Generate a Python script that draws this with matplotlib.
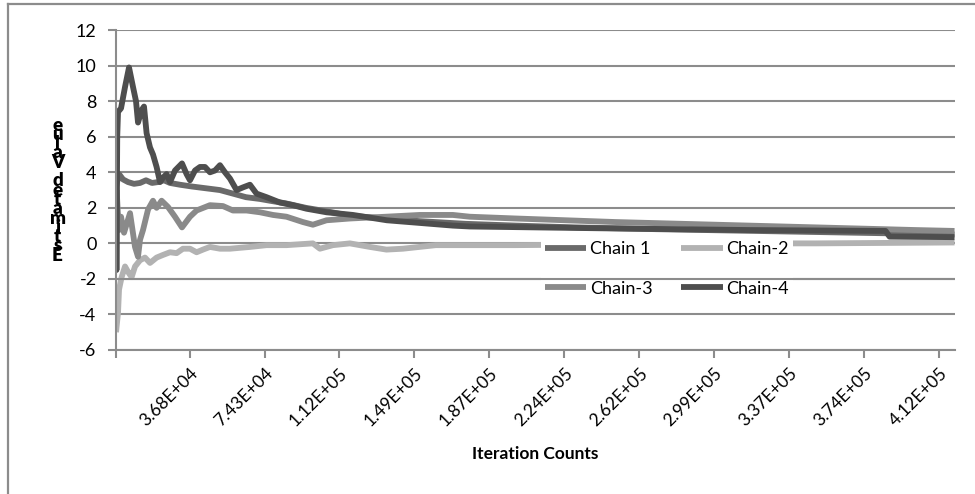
import numpy as np
import matplotlib
matplotlib.use("Agg")
import matplotlib.pyplot as plt
from matplotlib.lines import Line2D

plt.rcParams['font.family'] = ['Lato', 'DejaVu Sans']

# running estimate of each chain vs. iteration count
chain1_x = [0, 1500, 3500, 6000, 9000, 12000, 15000, 18000, 21000, 24000, 27000, 32000,
            38000, 45000, 52000, 58500, 65000, 72000, 77000, 85000, 95000, 108000, 117000,
            135000, 152000, 175000, 200000, 230000, 270000, 320000, 370000, 419500]
chain1_y = [3.2, 3.9, 3.6, 3.45, 3.35, 3.4, 3.55, 3.4, 3.45, 3.55, 3.4, 3.3,
            3.2, 3.1, 3.0, 2.8, 2.6, 2.5, 2.4, 2.25, 2.0, 1.75, 1.55,
            1.4, 1.25, 1.1, 1.0, 0.9, 0.8, 0.7, 0.6, 0.5]

chain2_x = [0, 1000, 1500, 2800, 4500, 6000, 7800, 9500, 12000, 14500, 17000, 20300,
            23500, 27000, 30300, 33500, 37000, 40300, 43500, 47000, 52000, 57000, 67000,
            75300, 85300, 98500, 102000, 108500, 117000, 127000, 135300, 143500, 160000,
            200000, 250000, 300000, 350000, 419500]
chain2_y = [-5.0, -3.9, -2.6, -1.9, -1.3, -1.6, -1.9, -1.3, -0.95, -0.8, -1.1, -0.8,
            -0.65, -0.5, -0.55, -0.3, -0.3, -0.5, -0.35, -0.2, -0.3, -0.3, -0.2,
            -0.1, -0.1, 0.0, -0.3, -0.1, 0.0, -0.2, -0.35, -0.3, -0.1,
            -0.1, -0.05, 0.0, 0.0, 0.05]

chain3_x = [300, 900, 1500, 2500, 4000, 7000, 9500, 11000, 12000, 13500, 16000, 18500,
            20300, 22800, 26000, 29500, 33000, 37000, 40300, 47000, 53500, 58500, 65300,
            72000, 78500, 85300, 93500, 98500, 105300, 117000, 135000, 152000, 168500,
            177000, 200000, 250000, 300000, 350000, 400000, 419500]
chain3_y = [3.0, 1.75, 0.75, 1.5, 0.6, 1.7, -0.2, -0.75, 0.2, 0.75, 1.9, 2.4,
            2.0, 2.4, 2.05, 1.5, 0.9, 1.5, 1.85, 2.15, 2.1, 1.85, 1.85,
            1.75, 1.6, 1.5, 1.2, 1.05, 1.3, 1.4, 1.5, 1.6, 1.6,
            1.5, 1.4, 1.2, 1.05, 0.9, 0.75, 0.7]

chain4_x = [0, 200, 600, 1000, 2500, 4500, 6500, 8500, 10000, 11000, 12800, 14000,
            15300, 17000, 18500, 20300, 22000, 23500, 25300, 27000, 29500, 33000, 35300,
            37000, 39500, 42000, 44500, 47000, 49500, 52000, 54500, 57000, 60300, 63500,
            67000, 70300, 75300, 82000, 88500, 95300, 105300, 118500, 135500, 152000,
            168500, 177000, 242000, 317000, 385000, 387000, 419500]
chain4_y = [4.8, -1.5, 6.0, 7.4, 7.6, 8.8, 9.9, 8.8, 8.0, 6.8, 7.5, 7.7,
            6.2, 5.4, 5.0, 4.3, 3.45, 3.7, 3.9, 3.45, 4.1, 4.5, 3.9,
            3.55, 4.1, 4.3, 4.3, 4.0, 4.1, 4.4, 4.0, 3.65, 3.0, 3.15,
            3.3, 2.8, 2.6, 2.3, 2.15, 1.95, 1.75, 1.6, 1.3, 1.15,
            1.0, 0.95, 0.85, 0.75, 0.7, 0.38, 0.35]

series = [
    ("Chain 1", chain1_x, chain1_y, "#6a6a6a"),
    ("Chain-2", chain2_x, chain2_y, "#b2b2b2"),
    ("Chain-3", chain3_x, chain3_y, "#8a8a8a"),
    ("Chain-4", chain4_x, chain4_y, "#4e4e4e"),
]

x_tick_values = [36800, 74300, 111800, 149300, 186800, 224300, 261800, 299300,
                 336800, 374300, 411800]
x_tick_labels = ["3.68E+04", "7.43E+04", "1.12E+05", "1.49E+05", "1.87E+05", "2.24E+05",
                 "2.62E+05", "2.99E+05", "3.37E+05", "3.74E+05", "4.12E+05"]
y_ticks = [-6, -4, -2, 0, 2, 4, 6, 8, 10, 12]

grid_color = "#8c8c8c"

fig = plt.figure(figsize=(9.75, 4.94), dpi=100)
ax = fig.add_axes([0.119, 0.2915, 0.860, 0.6475])

handles = {}
for name, xs, ys, col in series:
    handles[name], = ax.plot(xs, ys, color=col, lw=4.2, label=name,
                             solid_joinstyle='round', solid_capstyle='butt')

ax.set_xlim(0, 419500)
ax.set_ylim(-6, 12)
ax.set_yticks(y_ticks)
ax.set_yticklabels([str(v) for v in y_ticks])
ax.set_xticks(x_tick_values)
ax.set_xticks([0], minor=True)
ax.set_xticklabels(x_tick_labels, rotation=45, ha='right', va='top',
                   rotation_mode='anchor')

ax.grid(axis='y', color=grid_color, lw=1.5)
ax.set_axisbelow(True)
for side in ['top', 'right']:
    ax.spines[side].set_visible(False)
for side in ['left', 'bottom']:
    ax.spines[side].set_color(grid_color)
    ax.spines[side].set_linewidth(1.5)
ax.tick_params(axis='y', which='both', length=6, width=1.5, color=grid_color,
               labelsize=13, pad=8)
ax.tick_params(axis='x', which='both', length=6, width=1.5, color=grid_color,
               labelsize=12.5, pad=5)

ax.set_xlabel("Iteration Counts", fontsize=12.5, fontweight='bold', labelpad=12)

# letters stacked bottom-to-top, like the spreadsheet export
ylab = "\n".join(reversed("Estimated Value"))
fig.text(0.059, 0.615, ylab, fontsize=13.5, fontweight='heavy', ha='center',
         va='center', linespacing=0.45)

# row-major legend: Chain 1, Chain-2 / Chain-3, Chain-4
order = ["Chain 1", "Chain-3", "Chain-2", "Chain-4"]
leg = ax.legend([handles[n] for n in order], order, ncol=2, loc='center',
                bbox_to_anchor=(0.684, 0.4555), bbox_transform=fig.transFigure,
                frameon=True, fancybox=False, facecolor='white', edgecolor='none',
                framealpha=1.0, fontsize=13, handlelength=2.3, handletextpad=0.2,
                columnspacing=1.6, labelspacing=1.3, borderpad=0.2)
# keep the -2 gridline visible across the legend box
ax.axhline(-2, color=grid_color, lw=1.5, zorder=6)

# chart border
fig.add_artist(Line2D([0.0082, 1.0], [0.992, 0.992], color=grid_color, lw=1.6))
fig.add_artist(Line2D([0.0082, 0.0082], [0.0, 0.992], color=grid_color, lw=1.6))

fig.savefig("out.png", dpi=100)
